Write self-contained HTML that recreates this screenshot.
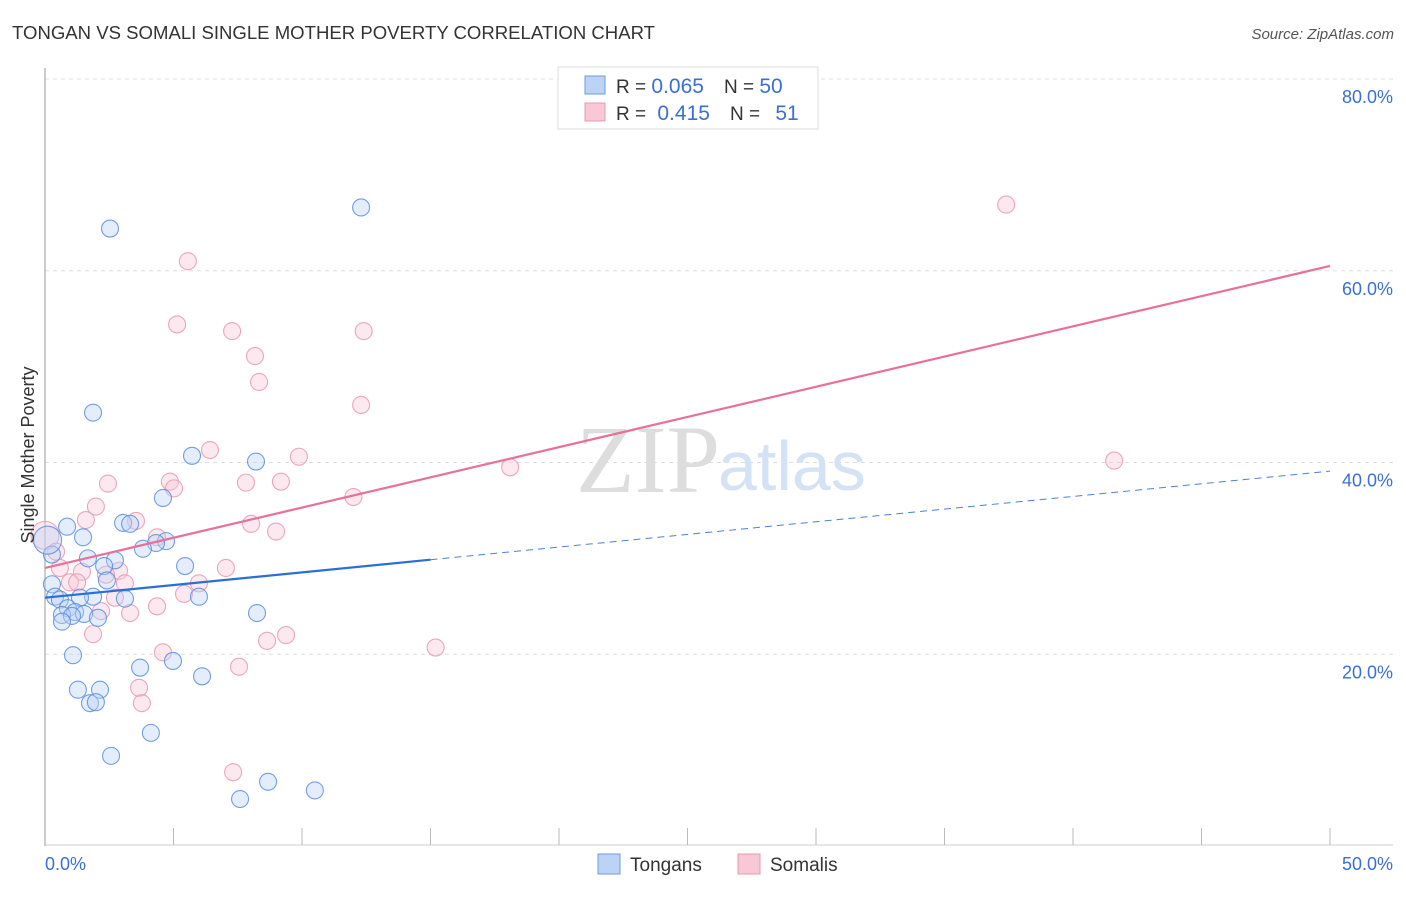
<!DOCTYPE html>
<html><head><meta charset="utf-8"><style>
body{margin:0;background:#fff;font-family:"Liberation Sans",sans-serif;}
</style></head><body>
<svg width="1406" height="892" viewBox="0 0 1406 892" xmlns="http://www.w3.org/2000/svg" font-family="Liberation Sans, sans-serif">
<text x="12" y="39" font-size="18" fill="#333" textLength="643" lengthAdjust="spacingAndGlyphs">TONGAN VS SOMALI SINGLE MOTHER POVERTY CORRELATION CHART</text>
<text x="1394" y="39" font-size="15" fill="#555" text-anchor="end" font-style="italic">Source: ZipAtlas.com</text>
<g id="grid"></g>
<text x="720" y="492" font-size="96" fill="#ddd" text-anchor="end" font-family="Liberation Serif, serif">ZIP</text>
<text x="718" y="490" font-size="70" fill="#d4e2f5">atlas</text>
<line x1="45" y1="68" x2="45" y2="846" stroke="#bbb" stroke-width="1.5"/>
<line x1="45" y1="845" x2="1393" y2="845" stroke="#ccc" stroke-width="1"/>
<g id="ticks"></g>
<g id="pts"></g>
<g id="lines"></g>
<text transform="translate(34,455) rotate(-90)" font-size="18" fill="#333" text-anchor="middle">Single Mother Poverty</text>
<text x="45" y="870" font-size="18" fill="#3a6fd6">0.0%</text>
<text x="1393" y="870" font-size="18" fill="#3a6fd6" text-anchor="end">50.0%</text>
<g>
<rect x="558" y="67" width="260" height="62" fill="#fff" stroke="#ddd"/>
<rect x="585" y="76" width="20" height="18" fill="#bcd3f5" stroke="#6d9be0"/>
<rect x="585" y="103" width="20" height="18" fill="#f8c8d6" stroke="#e898b0"/>
<text x="616" y="93" font-size="19" fill="#333">R = <tspan fill="#3a6fd6" font-size="21">0.065</tspan><tspan dx="20">N = </tspan><tspan fill="#3a6fd6" font-size="21">50</tspan></text>
<text x="616" y="120" font-size="19" fill="#333">R = <tspan fill="#3a6fd6" dx="6" font-size="21">0.415</tspan><tspan dx="20">N = </tspan><tspan fill="#3a6fd6" dx="10" font-size="21">51</tspan></text>
</g>
<g><rect x="598" y="854" width="22" height="20" fill="#bcd3f5" stroke="#6d9be0"/><text x="630" y="871" font-size="19" fill="#333">Tongans</text></g>
<g><rect x="738" y="854" width="22" height="20" fill="#f8c8d6" stroke="#e898b0"/><text x="770" y="871" font-size="19" fill="#333">Somalis</text></g>
</svg>
<script>
const yTicks=[20,40,60,80];
const blueX=[2.53,12.3,1.87,5.72,8.21,4.59,3.04,3.31,0.86,1.48,4.71,4.32,3.81,2.72,1.67,0.27,5.45,2.30,2.41,0.27,0.39,1.87,3.11,5.99,1.36,0.58,0.89,1.17,0.66,1.52,2.06,1.05,0.66,8.25,1.09,4.98,3.70,6.11,1.28,2.14,1.75,1.98,4.12,2.57,8.68,7.59,10.5,0.1];
const blueY=[64.4,66.6,45.2,40.7,40.1,36.3,33.7,33.6,33.3,32.2,31.8,31.6,31.0,29.8,30.0,30.4,29.2,29.2,27.7,27.3,26.0,26.0,25.8,26.0,25.9,25.7,24.8,24.4,24.1,24.2,23.8,24.0,23.4,24.3,19.9,19.3,18.6,17.7,16.3,16.3,14.9,15.0,11.8,9.4,6.7,4.9,5.8,31.9];
const pinkX=[37.4,5.56,5.14,7.28,12.4,8.17,8.33,12.3,6.42,9.88,41.6,18.1,4.86,5.02,2.45,7.82,9.18,12.0,1.98,1.59,3.54,8.02,8.99,4.36,0.0,0.43,0.58,1.44,2.88,2.37,0.97,1.25,3.11,7.04,5.99,5.41,2.72,4.36,3.31,2.18,1.87,9.38,8.64,15.2,4.59,7.55,3.66,3.77,7.32];
const pinkY=[66.9,61.0,54.4,53.7,53.7,51.1,48.4,46.0,41.3,40.6,40.2,39.5,38.0,37.3,37.8,37.9,38.0,36.4,35.4,34.0,33.9,33.6,32.8,32.2,32.4,30.7,29.0,28.6,28.7,28.3,27.5,27.5,27.4,29.0,27.4,26.3,25.9,25.0,24.3,24.5,22.1,22.0,21.4,20.7,20.2,18.7,16.5,14.9,7.7];
const blueBig=[47], pinkBig=[24];
const blueTrend=[25.9,39.1], pinkTrend=[29.0,60.5];
const NS='http://www.w3.org/2000/svg';
const sx=v=>45+v*25.7, sy=v=>846-v*9.5875;
function mk(tag,parent,attrs){const e=document.createElementNS(NS,tag);for(const k in attrs)e.setAttribute(k,attrs[k]);document.getElementById(parent).appendChild(e);return e;}
yTicks.forEach(t=>{
 const l=mk('line','grid',{x1:45,x2:1393,y1:sy(t),y2:sy(t),stroke:'#ddd','stroke-dasharray':'4,4'});
 
 
 const tx=mk('text','grid',{x:1393,y:sy(t)+24,'font-size':18,fill:'#3a6fd6','text-anchor':'end'});
 tx.textContent=t.toFixed(1)+'%';
 
 
});
for(let i=0;i<=10;i++){
 const l=mk('line','ticks',{x1:sx(i*5),x2:sx(i*5),y1:828,y2:845,stroke:'#bbb'});
 
 
}
function pts(X,Y,big,fill,stroke,name){
 X.forEach((x,i)=>{
  const r=big.includes(i)?14:8.5;
  const c=mk('circle','pts',{cx:sx(x),cy:sy(Y[i]),r:r,fill:fill,'fill-opacity':big.includes(i)?0.4:0.4,stroke:stroke,'stroke-width':1.1,'stroke-opacity':0.85});
  
  
 });
}
pts(pinkX,pinkY,pinkBig,'#f8c8d6','#e898b0','somali-point');
pts(blueX,blueY,blueBig,'#bcd3f5','#5b8ee0','tongan-point');
const bAt=x=>blueTrend[0]+(blueTrend[1]-blueTrend[0])*x/50;
const pAt=x=>pinkTrend[0]+(pinkTrend[1]-pinkTrend[0])*x/50;
let l=mk('line','lines',{x1:sx(0),y1:sy(pAt(0)),x2:sx(50),y2:sy(pAt(50)),stroke:'#e8709a','stroke-width':2.2});


l=mk('line','lines',{x1:sx(0),y1:sy(bAt(0)),x2:sx(15),y2:sy(bAt(15)),stroke:'#2a6fd6','stroke-width':2.2});


l=mk('line','lines',{x1:sx(15),y1:sy(bAt(15)),x2:sx(50),y2:sy(bAt(50)),stroke:'#4a80d8','stroke-width':1,'stroke-dasharray':'7,5'});


</script>
</body></html>
